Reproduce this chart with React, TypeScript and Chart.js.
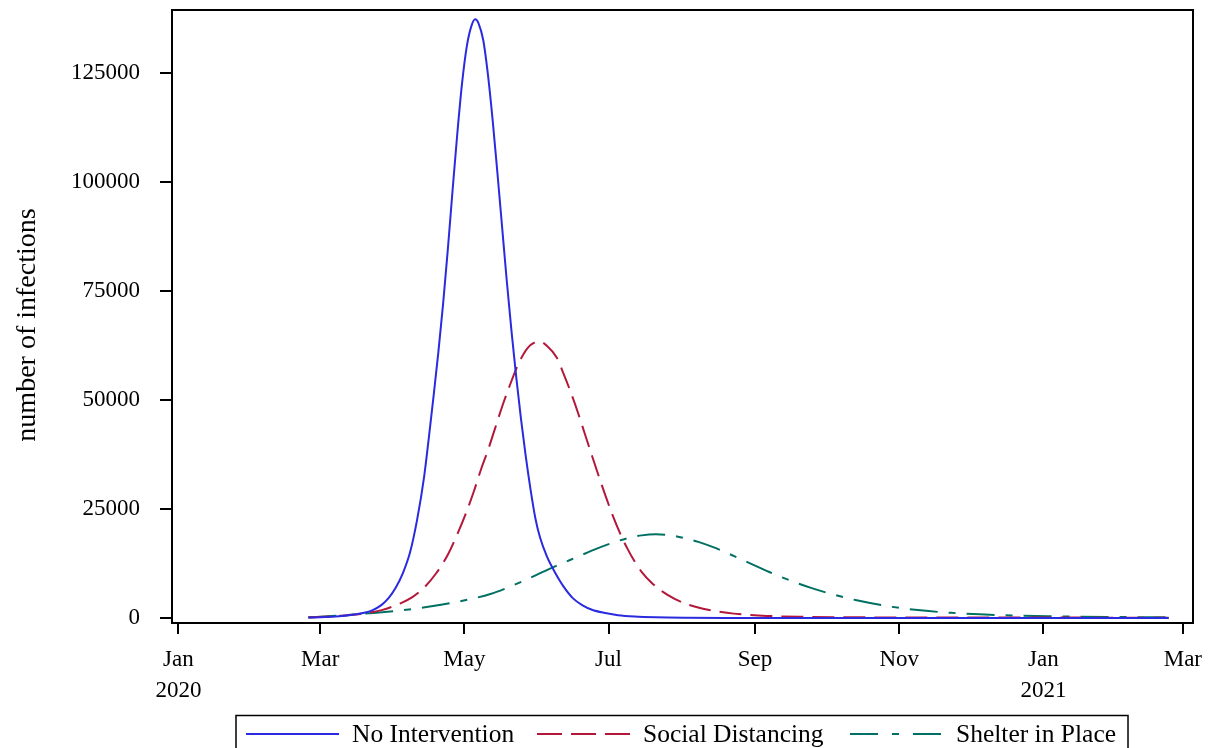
import React, { useEffect, useRef } from 'react';
import { Chart, registerables } from 'chart.js';

Chart.register(...registerables);

// x axis: days since 1 Jan 2020
const tickDays = [0, 60, 121, 182, 244, 305, 366, 425];
const tickLabels: (string | string[])[] = [['Jan', '2020'], 'Mar', 'May', 'Jul', 'Sep', 'Nov', ['Jan', '2021'], 'Mar'];
const yTicks = [0, 25000, 50000, 75000, 100000, 125000];

const seriesLabels = ['No Intervention', 'Social Distancing', 'Shelter in Place'];

const noDays = [55, 62, 68, 73, 78, 82, 86, 89, 92, 95, 98, 101, 104, 106, 108, 110, 112, 114, 116, 118, 120, 122, 124, 125.6, 127, 129, 131, 133, 135, 137, 139, 141, 143, 145, 147, 149, 151, 153, 156, 159, 163, 167, 171, 175, 180, 186, 193, 202, 215, 235, 260, 419];
const noVals = [100, 220, 420, 700, 1150, 1750, 3000, 4600, 7000, 10300, 15000, 22500, 32500, 41500, 51000, 61000, 72000, 84500, 98000, 111000, 122500, 131000, 135800, 137300, 136400, 132500, 124500, 114000, 102000, 89500, 77000, 65500, 55000, 45500, 37000, 29500, 23000, 18500, 14000, 10800, 7200, 4500, 2900, 1900, 1200, 650, 340, 160, 60, 15, 0, 0];

const sdDays = [55, 67, 77, 86, 94, 99, 104, 109, 114, 118, 122, 125, 128, 131, 134, 137, 140, 143, 146, 149, 152.8, 156, 160, 163, 166, 169, 172, 175, 178, 181, 184, 187, 190, 193, 196, 200, 205, 210, 216, 222, 228, 235, 249, 265, 285, 320, 419];
const sdVals = [100, 460, 920, 1800, 3370, 4800, 7000, 10200, 14500, 19200, 24500, 29000, 34000, 38500, 43500, 48500, 53000, 57200, 60500, 62600, 63400, 62400, 59800, 56000, 51800, 47200, 42200, 37200, 32300, 27600, 23200, 19300, 15900, 13000, 10600, 8200, 6000, 4400, 3000, 2100, 1500, 1000, 480, 260, 160, 100, 80];

const shDays = [55, 65, 75, 85, 95, 105, 115, 125, 132, 139, 146, 152, 158, 164, 170, 177, 184, 190, 196, 202, 208, 214, 220, 226, 232, 238, 244, 250, 256, 262, 268, 275, 287, 302, 314, 327, 339, 353, 368, 393, 419];
const shVals = [150, 450, 850, 1250, 1800, 2500, 3400, 4500, 5500, 6900, 8500, 10000, 11500, 12900, 14300, 15900, 17300, 18300, 18950, 19200, 19000, 18350, 17450, 16300, 14950, 13500, 12000, 10550, 9200, 7950, 6850, 5700, 4050, 2550, 1750, 1180, 830, 560, 390, 230, 150];

const colors = ['#2a2ae0', '#b3183a', '#007062'];
const curveDash = [[], [22, 9], [28, 11, 7, 11]];
const legendDash = [[], [25, 9], [28, 14, 7, 14]];

const FONT = '"Liberation Serif", "Times New Roman", serif';

export default function App() {
  const ref = useRef<HTMLCanvasElement>(null);

  useEffect(() => {
    if (!ref.current) return;
    const pts = (d: number[], v: number[]) => d.map((x, i) => ({ x, y: v[i] }));

    const frame = {
      id: 'frame',
      afterDraw(chart: any) {
        const { ctx, chartArea: a } = chart;
        ctx.save();
        ctx.strokeStyle = '#000';
        ctx.lineWidth = 2;
        ctx.strokeRect(a.left, a.top, a.right - a.left, a.bottom - a.top);
        // y axis title
        ctx.translate(28, 325);
        ctx.rotate(-Math.PI / 2);
        ctx.fillStyle = '#000';
        ctx.font = `28px ${FONT}`;
        ctx.textAlign = 'center';
        ctx.textBaseline = 'middle';
        ctx.fillText('number of infections', 0, 0);
        ctx.restore();
      },
    };

    const boxLegend = {
      id: 'boxLegend',
      afterDraw(chart: any) {
        const ctx = chart.ctx;
        ctx.save();
        ctx.strokeStyle = '#000';
        ctx.lineWidth = 1.5;
        ctx.setLineDash([]);
        ctx.strokeRect(236, 715.5, 1128 - 236, 60);
        const lineX = [246, 537, 850];
        chart.data.datasets.forEach((ds: any, i: number) => {
          const x0 = lineX[i];
          ctx.beginPath();
          ctx.setLineDash(legendDash[i]);
          ctx.strokeStyle = ds.borderColor;
          ctx.lineWidth = 2;
          ctx.moveTo(x0, 734);
          ctx.lineTo(x0 + 93, 734);
          ctx.stroke();
          ctx.setLineDash([]);
          ctx.fillStyle = '#000';
          ctx.font = `25.5px ${FONT}`;
          ctx.textAlign = 'left';
          ctx.textBaseline = 'alphabetic';
          ctx.fillText(ds.label, x0 + 106, 742);
        });
        ctx.restore();
      },
    };

    const zeroPad = (s: any) => {
      s.paddingTop = 0;
      s.paddingBottom = 0;
      s.paddingLeft = 0;
      s.paddingRight = 0;
    };

    const chart = new Chart(ref.current, {
      type: 'line',
      data: {
        datasets: [
          { label: seriesLabels[0], data: pts(noDays, noVals) },
          { label: seriesLabels[1], data: pts(sdDays, sdVals) },
          { label: seriesLabels[2], data: pts(shDays, shVals) },
        ].map((d, i) => ({
          ...d,
          borderColor: colors[i],
          backgroundColor: colors[i],
          borderWidth: 2,
          borderDash: curveDash[i],
          pointRadius: 0,
          fill: false,
          cubicInterpolationMode: 'monotone' as const,
        })),
      },
      options: {
        responsive: false,
        animation: false,
        devicePixelRatio: 1,
        layout: { padding: { left: 0, top: 10, right: 16, bottom: 0 } },
        plugins: {
          legend: { display: false },
          tooltip: { enabled: false },
        },
        scales: {
          x: {
            type: 'linear',
            min: -2.7,
            max: 429.3,
            afterBuildTicks: (s: any) => {
              s.ticks = tickDays.map((v) => ({ value: v }));
            },
            afterFit: (s: any) => {
              s.height = 125;
              zeroPad(s);
            },
            grid: { display: true, drawOnChartArea: false, drawTicks: true, tickLength: 11, color: '#000', lineWidth: 2 },
            border: { display: false },
            ticks: {
              color: '#000',
              padding: 10.5,
              maxRotation: 0,
              autoSkip: false,
              font: { family: FONT, size: 23, lineHeight: 1.35 },
              callback: (v: any) => {
                const i = tickDays.indexOf(Number(v));
                return i >= 0 ? tickLabels[i] : '';
              },
            },
          },
          y: {
            type: 'linear',
            min: -1150,
            max: 139450,
            afterBuildTicks: (s: any) => {
              s.ticks = yTicks.map((v) => ({ value: v }));
            },
            afterFit: (s: any) => {
              s.width = 172;
              zeroPad(s);
            },
            grid: { display: true, drawOnChartArea: false, drawTicks: true, tickLength: 12, color: '#000', lineWidth: 2 },
            border: { display: false },
            ticks: {
              color: '#000',
              padding: 20,
              font: { family: FONT, size: 23 },
              callback: (v: any) => String(v),
            },
          },
        },
      },
      plugins: [frame, boxLegend],
    } as any);

    return () => chart.destroy();
  }, []);

  return (
    <div style={{ position: 'fixed', left: 0, top: 0, width: 1209, height: 748, background: '#fff', overflow: 'hidden' }}>
      <canvas ref={ref} width={1209} height={748} style={{ display: 'block' }} />
    </div>
  );
}
